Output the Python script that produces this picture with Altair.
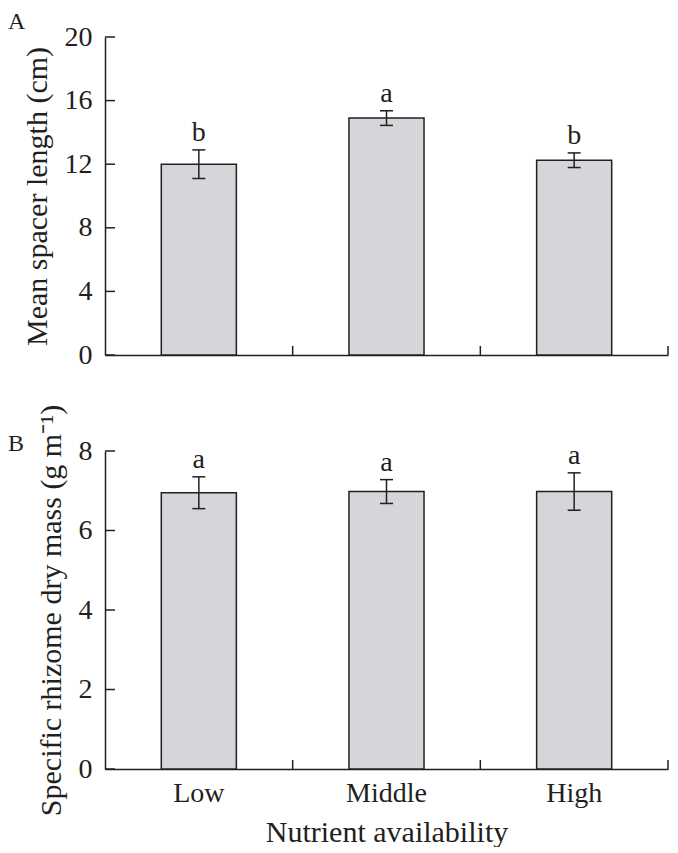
import altair as alt
import pandas as pd

categories = ["Low", "Middle", "High"]
spacer_mean = [12.0, 14.9, 12.25]
spacer_se = [0.9, 0.46, 0.46]
spacer_letters = ["b", "a", "b"]
mass_mean = [6.95, 6.98, 6.98]
mass_se = [0.40, 0.30, 0.47]
mass_letters = ["a", "a", "a"]
ticks_a = [0, 4, 8, 12, 16, 20]
ticks_b = [0, 2, 4, 6, 8]

FONT = "Liberation Serif"
INK = "#231f20"
FILL = "#d5d6d9"
W, H = 563, 318


def panel(mean, se, letters, ticks, ymax, ytitle, label, label_dy, show_x):
    df = pd.DataFrame({
        "cat": categories,
        "mean": mean,
        "lo": [m - s for m, s in zip(mean, se)],
        "hi": [m + s for m, s in zip(mean, se)],
        "letter": letters,
    })
    tdf = pd.DataFrame({"v": ticks})
    ldf = pd.DataFrame({"label": [label]})
    yscale = alt.Scale(domain=[0, ymax], nice=False, zero=True)
    xscale = alt.Scale(paddingInner=0, paddingOuter=0)
    yaxis = alt.Axis(values=ticks, ticks=False, tickSize=0, grid=False,
                     labelPadding=13, title=ytitle, titlePadding=12)
    if show_x:
        xaxis = alt.Axis(labelAngle=0, ticks=False, tickSize=0, grid=False,
                         labelPadding=10, title="Nutrient availability",
                         titlePadding=10)
    else:
        xaxis = alt.Axis(labels=False, ticks=False, tickSize=0, grid=False,
                         labelPadding=0, title=None)

    def X(**kw):
        return alt.X("cat:N", sort=categories, scale=xscale, axis=xaxis, **kw)

    def Y(field):
        return alt.Y(field, scale=yscale, axis=yaxis)

    base = alt.Chart(df)
    bars = base.mark_bar(width=alt.RelativeBandSize(0.4), fill=FILL,
                         stroke=INK, strokeWidth=1.5).encode(
        x=X(), y=Y("mean:Q"))
    err = base.mark_rule(stroke=INK, strokeWidth=1.5).encode(
        x=X(), y=Y("lo:Q"), y2="hi:Q")
    caps = base.transform_fold(["lo", "hi"], as_=["end", "val"]).mark_tick(
        orient="horizontal", size=13, thickness=1.5, color=INK, opacity=1).encode(
        x=X(), y=Y("val:Q"))
    letters_l = base.mark_text(baseline="alphabetic", dy=-9, fontSize=28,
                               font=FONT, color=INK).encode(
        x=X(), y=Y("hi:Q"), text="letter:N")
    yt = alt.Chart(tdf).mark_rule(stroke=INK, strokeWidth=1.5).encode(
        y=Y("v:Q"), x=alt.value(0), x2=alt.value(10))
    xt = base.mark_rule(stroke=INK, strokeWidth=1.5).encode(
        x=X(bandPosition=1), y=alt.value(H - 9), y2=alt.value(H))
    plabel = alt.Chart(ldf).mark_text(
        align="left", baseline="top", fontSize=24, font=FONT, color=INK,
        dx=-97, dy=label_dy).encode(
        x=alt.value(0), y=alt.value(0), text="label:N")
    return alt.layer(bars, err, caps, letters_l, yt, xt, plabel).properties(
        width=W, height=H)


a = panel(spacer_mean, spacer_se, spacer_letters, ticks_a, 20,
          "Mean spacer length (cm)", "A", -27, False)
b = panel(mass_mean, mass_se, mass_letters, ticks_b, 8,
          "Specific rhizome dry mass (g m⁻¹)", "B", -19, True)

chart = alt.vconcat(a, b, spacing=35).properties(
    padding={"left": 0, "top": 2, "right": 0, "bottom": 0}
).configure_view(stroke=None).configure_axis(
    domainColor=INK, domainWidth=1.5, labelFont=FONT, labelFontSize=28,
    labelColor=INK, titleFont=FONT, titleFontSize=30, titleFontWeight="normal",
    titleColor=INK,
)

chart.save("out.html", embed_options={"renderer": "svg", "actions": False})
